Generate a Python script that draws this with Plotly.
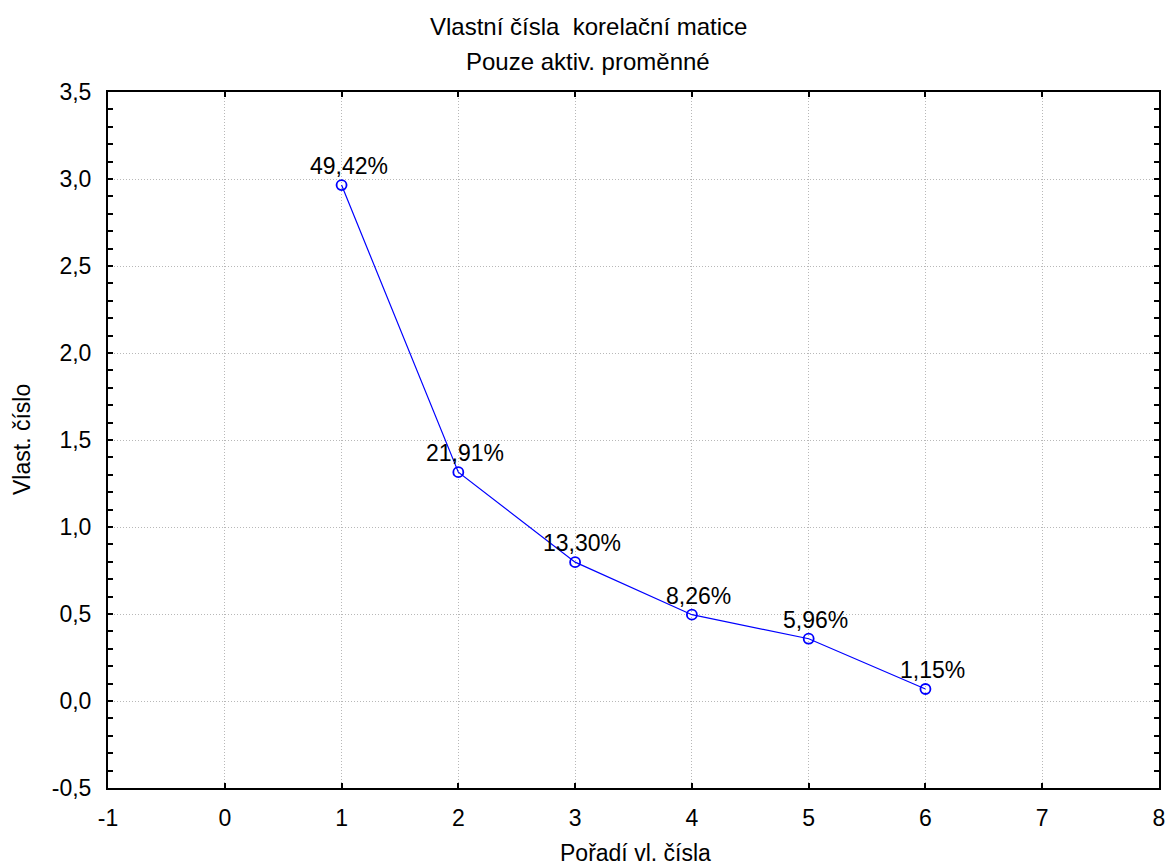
import plotly.graph_objects as go

# Data
order = [1, 2, 3, 4, 5, 6]
eigenvalues = [2.965, 1.315, 0.798, 0.496, 0.358, 0.069]
pct_labels = ["49,42%", "21,91%", "13,30%", "8,26%", "5,96%", "1,15%"]

x_tickvals = [-1, 0, 1, 2, 3, 4, 5, 6, 7, 8]
x_ticktext = ["-1", "0", "1", "2", "3", "4", "5", "6", "7", "8"]
y_tickvals = [-0.5, 0.0, 0.5, 1.0, 1.5, 2.0, 2.5, 3.0, 3.5]
y_ticktext = ["-0,5", "0,0", "0,5", "1,0", "1,5", "2,0", "2,5", "3,0", "3,5"]

title_line1 = "Vlastní čísla  korelační matice"
title_line2 = "Pouze aktiv. proměnné"
x_title = "Pořadí vl. čísla"
y_title = "Vlast. číslo"

FONT = "Liberation Sans, Arial, sans-serif"
FS = 23

PAGE_OFF = 0  # body margin removed by post_script
W, H = 1168, 865
L, R, T, B = 108, 9, 92, 77
plot_w = W - L - R
plot_h = H - T - B


def px(page_x):
    return (page_x - PAGE_OFF - L) / plot_w


def py(page_y):
    return (H - B - (page_y - PAGE_OFF)) / plot_h


fig = go.Figure()
fig.add_trace(go.Scatter(
    x=order, y=eigenvalues, mode="lines+markers",
    line=dict(color="#0000FF", width=1.2),
    marker=dict(symbol="circle-open", size=10, color="#0000FF", line=dict(width=1.8, color="#0000FF")),
    showlegend=False, hoverinfo="skip",
))

for xi, yi, t in zip(order, eigenvalues, pct_labels):
    fig.add_annotation(x=xi, y=yi, text=t, showarrow=False,
                       xanchor="center", yanchor="bottom", xshift=7, yshift=4,
                       font=dict(family=FONT, size=FS, color="#000000"))

fig.add_annotation(x=px(588), xref="paper", y=py(27), yref="paper",
                   text=title_line1, showarrow=False, xanchor="center", yanchor="middle",
                   font=dict(family=FONT, size=FS + 1, color="#000000"))
fig.add_annotation(x=px(588), xref="paper", y=py(62), yref="paper",
                   text=title_line2, showarrow=False, xanchor="center", yanchor="middle",
                   font=dict(family=FONT, size=FS + 1, color="#000000"))

# axis titles
fig.add_annotation(x=px(635), xref="paper", y=py(853), yref="paper",
                   text=x_title, showarrow=False, xanchor="center", yanchor="middle",
                   font=dict(family=FONT, size=FS, color="#000000"))
fig.add_annotation(x=px(22), xref="paper", y=0.5, yref="paper",
                   text=y_title, showarrow=False, xanchor="center", yanchor="middle", textangle=-90,
                   font=dict(family=FONT, size=FS, color="#000000"))

axis_common = dict(
    showline=True, linecolor="#000000", linewidth=2, mirror="ticks",
    ticks="inside", ticklen=5, tickwidth=1.5, tickcolor="#000000",
    showgrid=True, gridcolor="#B8B8B8", gridwidth=1, griddash="1px,2px",
    zeroline=False, automargin=False, ticklabeloverflow="allow",
    tickfont=dict(family=FONT, size=FS, color="#000000"),
)

fig.update_xaxes(
    range=[-1, 8], tickvals=x_tickvals, ticktext=x_ticktext,
    ticklabelstandoff=8,
    **axis_common,
)
fig.update_yaxes(
    range=[-0.5, 3.5], tickvals=y_tickvals, ticktext=y_ticktext,
    minor=dict(dtick=0.1, tick0=0, ticks="inside", ticklen=5, tickwidth=1.5, tickcolor="#000000", showgrid=False),
    ticklabelstandoff=10,
    **axis_common,
)

fig.update_layout(
    width=W, height=H,
    margin=dict(l=L, r=R, t=T, b=B),
    paper_bgcolor="white", plot_bgcolor="white",
    font=dict(family=FONT, size=FS, color="#000000"),
)

fig.write_html("out.html",
               config={"displayModeBar": False},
               post_script="document.body.style.margin='0';document.body.style.overflow='hidden';")
